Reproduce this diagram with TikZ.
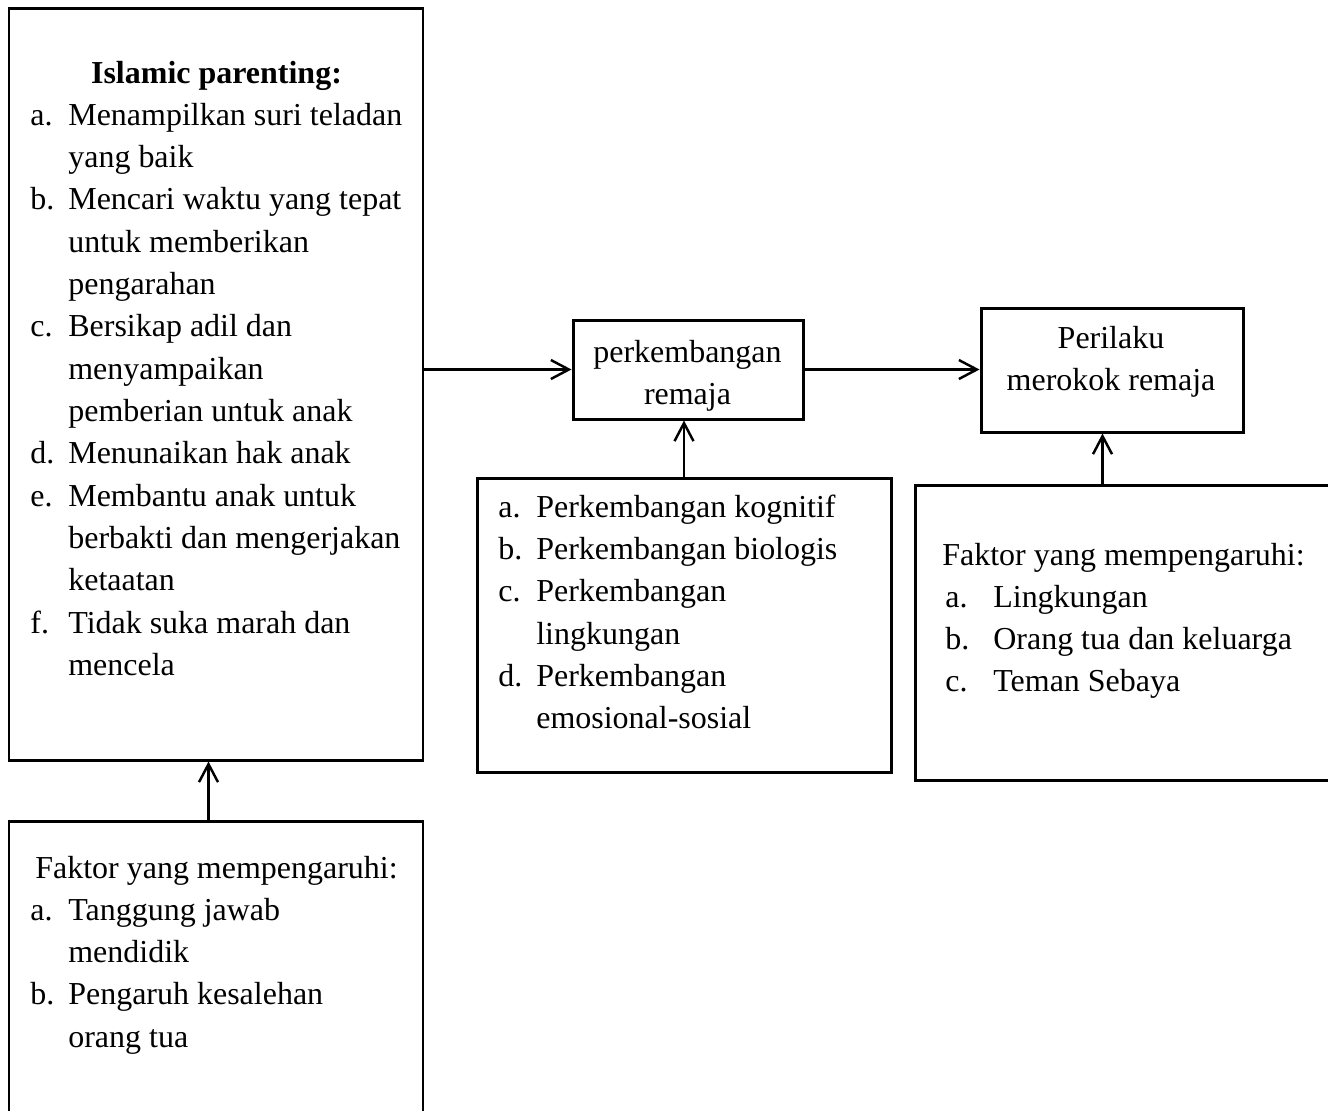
\documentclass[tikz,border=0pt]{standalone}
\usepackage{fontspec}
\setmainfont{Liberation Serif}
\usepackage{tikz}
\usetikzlibrary{arrows.meta, fit, positioning}

\tikzset{
    kotak/.style={draw, line width=1.7pt, inner sep=0pt},
    panah/.style={-{Straight Barb[length=0.36cm, width=0.38cm]}, line width=1.4pt},
    teks/.style={inner sep=0pt, anchor=base west, font=\fontsize{18.2}{24.1}\selectfont},
    tekstengah/.style={teks, anchor=base},
}
% daftar berbutir: lebar kolom label, isi
\newcommand{\daftar}[2]{\begin{tabular}[t]{@{}p{#1}@{}l@{}}#2\end{tabular}}

\begin{document}
\begin{tikzpicture}[x=0.02cm, y=-0.02cm]

    % =================================================================
    % 1. BINGKAI GAMBAR
    % =================================================================
    \useasboundingbox (0,0) rectangle (1328,1110);

    % =================================================================
    % 2. KOTAK-KOTAK UTAMA
    % =================================================================
    \node[kotak, fit={(9,8) (423,760)}] (parent) {};
    \node[kotak, fit={(9,821) (423,1130)}] (parentFactors) {};
    \node[kotak, fit={(573,320) (803,419)}] (dev) {};
    \node[kotak, fit={(981,308) (1243,432)}] (smoke) {};
    \node[kotak, fit={(477,478) (891,772)}] (devAspects) {};
    \node[kotak, fit={(915,485) (1345,780)}] (smokeFactors) {};

    % =================================================================
    % 3. ISI KOTAK KIRI (ISLAMIC PARENTING DAN FAKTORNYA)
    % =================================================================
    \node[tekstengah] (parentTitle) at (216.5,83) {\textbf{Islamic parenting:}};
    \node[teks] (parentList) at (30,125) {\daftar{0.76cm}{%
        a. & Menampilkan suri teladan\\
           & yang baik\\
        b. & Mencari waktu yang tepat\\
           & untuk memberikan\\
           & pengarahan\\
        c. & Bersikap adil dan\\
           & menyampaikan\\
           & pemberian untuk anak\\
        d. & Menunaikan hak anak\\
        e. & Membantu anak untuk\\
           & berbakti dan mengerjakan\\
           & ketaatan\\
        f. & Tidak suka marah dan\\
           & mencela}};

    \node[teks] (parentFactorsTitle) at (35,878) {Faktor yang mempengaruhi:};
    \node[teks] (parentFactorsList) at (30,920) {\daftar{0.76cm}{%
        a. & Tanggung jawab\\
           & mendidik\\
        b. & Pengaruh kesalehan\\
           & orang tua}};

    % =================================================================
    % 4. ISI KOTAK TENGAH DAN KANAN
    % =================================================================
    \node[tekstengah] (devText) at (687.5,362)
        {\begin{tabular}[t]{@{}c@{}}perkembangan\\ remaja\end{tabular}};
    \node[tekstengah] (smokeText) at (1111,348)
        {\begin{tabular}[t]{@{}c@{}}Perilaku\\ merokok remaja\end{tabular}};

    \node[teks] (devList) at (498,517) {\daftar{0.76cm}{%
        a. & Perkembangan kognitif\\
        b. & Perkembangan biologis\\
        c. & Perkembangan\\
           & lingkungan\\
        d. & Perkembangan\\
           & emosional-sosial}};

    \node[teks] (smokeFactorsTitle) at (942,565) {Faktor yang mempengaruhi:};
    \node[teks] (smokeFactorsList) at (945,607) {\daftar{0.96cm}{%
        a. & Lingkungan\\
        b. & Orang tua dan keluarga\\
        c. & Teman Sebaya}};

    % =================================================================
    % 5. PANAH PENGHUBUNG
    % =================================================================
    \draw[panah] (parent.east |- dev.west) -- (dev.west);
    \draw[panah] (dev.east) -- (dev.east -| smoke.west);
    \draw[panah] (devAspects.north) -- (devAspects.north |- dev.south);
    \draw[panah] ([xshift=-0.19cm]smoke.south |- smokeFactors.north) -- ([xshift=-0.19cm]smoke.south);
    \draw[panah] ([xshift=-0.15cm]parentFactors.north) -- ([xshift=-0.15cm]parent.south);

\end{tikzpicture}
\end{document}
